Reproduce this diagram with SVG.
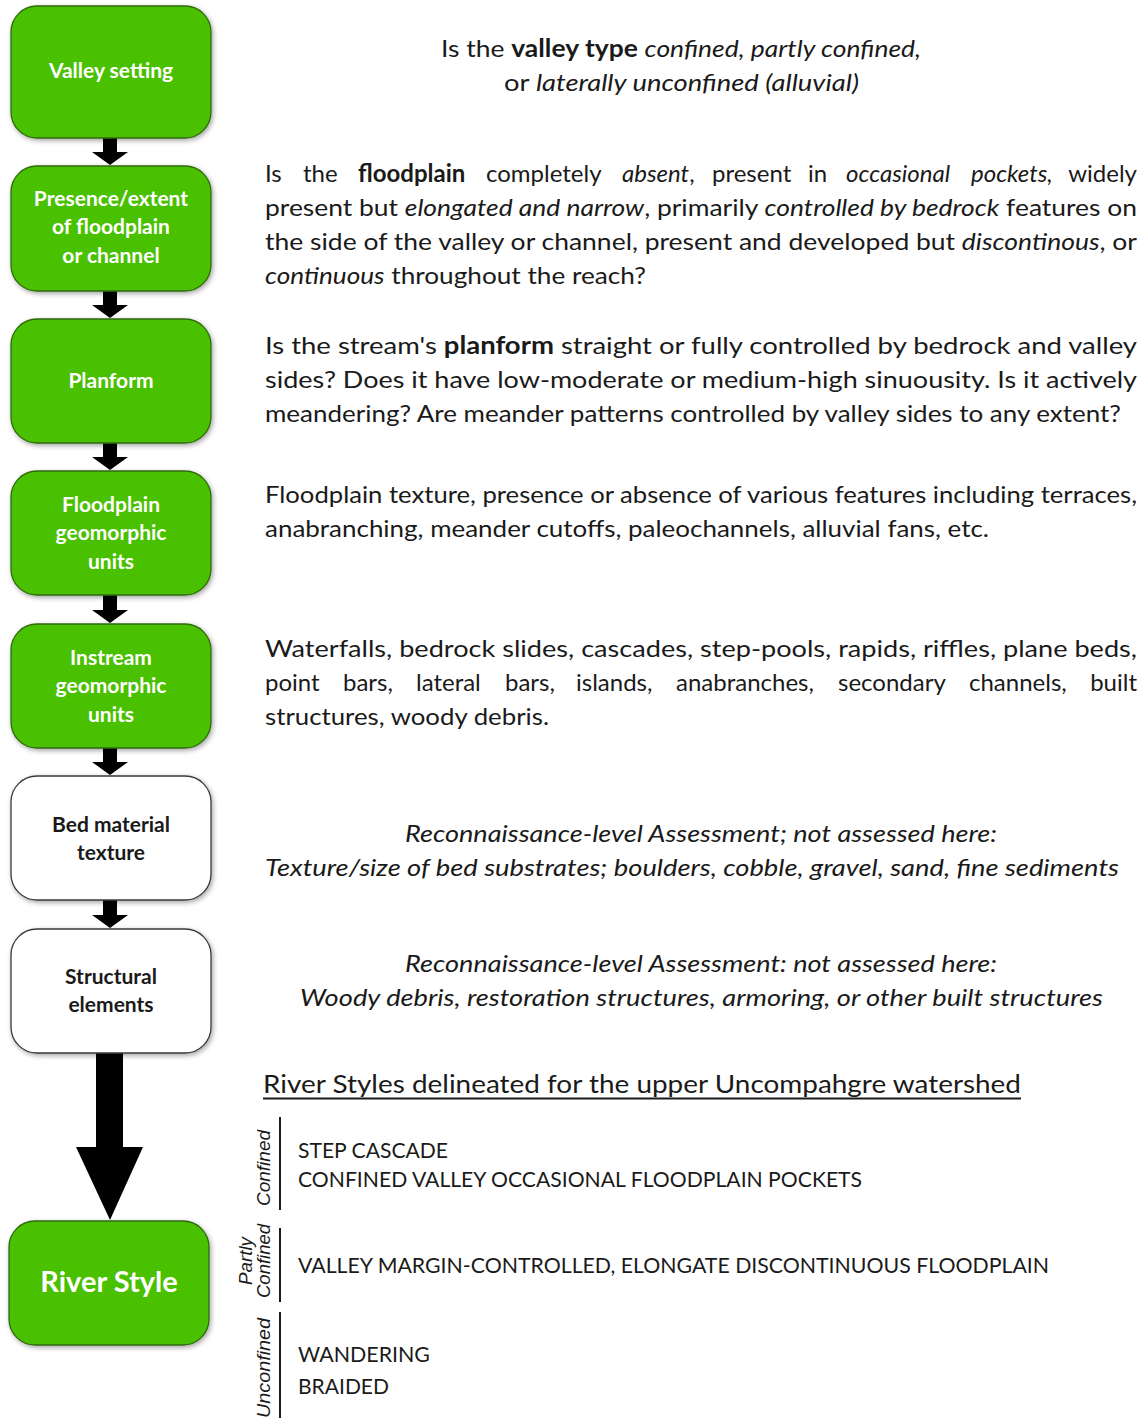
<svg xmlns="http://www.w3.org/2000/svg" width="1143" height="1418" viewBox="0 0 1143 1418">
  <style>
    .green { fill: #48c000; stroke: #2e6a0c; stroke-width: 1.3; }
    .white { fill: #ffffff; stroke: #3a3a3a; stroke-width: 1.3; }
    .lbl { font-family: Lato, "Open Sans", sans-serif; font-weight: bold; font-size: 21px; text-anchor: middle; }
    .lw { fill: #ffffff; }
    .lk { fill: #1a1a1a; }
    .body { font-family: Lato, "Liberation Sans", sans-serif; font-size: 24px; fill: #1a1a1a; }
    .b { font-weight: bold; }
    .i { font-style: italic; }
    .entry { font-family: Lato, "Liberation Sans", sans-serif; font-size: 21px; fill: #1a1a1a; }
    .side { font-family: "Liberation Sans", Arial, sans-serif; font-style: italic; font-size: 18.5px; fill: #1a1a1a; text-anchor: middle; }
  </style>
  <defs>
    <filter id="shadow" x="-10%" y="-10%" width="125%" height="125%">
      <feDropShadow dx="1.5" dy="2" stdDeviation="2.5" flood-color="#000" flood-opacity="0.35"/>
    </filter>
  </defs>

  <rect width="1143" height="1418" fill="#ffffff"/>

  <!-- flow arrows between the steps -->
  <g id="connectors" fill="#000000">
    <polygon points="103,138 117,138 117,152 128,152 110,165 92,152 103,152"/>
    <polygon points="103,291 117,291 117,305 128,305 110,318 92,305 103,305"/>
    <polygon points="103,443 117,443 117,457 128,457 110,470 92,457 103,457"/>
    <polygon points="103,595 117,595 117,610 128,610 110,623 92,610 103,610"/>
    <polygon points="103,748 117,748 117,762 128,762 110,775 92,762 103,762"/>
    <polygon points="103,900 117,900 117,915 128,915 110,928 92,915 103,915"/>
    <polygon points="96,1053 123,1053 123,1147 143,1147 110,1220 76,1147 96,1147"/>
  </g>

  <!-- step nodes -->
  <g id="valley-setting">
    <rect class="green" x="11" y="6" width="200" height="132" rx="26" filter="url(#shadow)"/>
    <text class="lbl lw" x="111" y="78">Valley setting</text>
  </g>
  <g id="floodplain-extent">
    <rect class="green" x="11" y="166" width="200" height="125" rx="26" filter="url(#shadow)"/>
    <text class="lbl lw" x="111" y="206">Presence/extent</text>
    <text class="lbl lw" x="111" y="234">of floodplain</text>
    <text class="lbl lw" x="111" y="263">or channel</text>
  </g>
  <g id="planform">
    <rect class="green" x="11" y="319" width="200" height="124" rx="26" filter="url(#shadow)"/>
    <text class="lbl lw" x="111" y="388">Planform</text>
  </g>
  <g id="floodplain-units">
    <rect class="green" x="11" y="471" width="200" height="124" rx="26" filter="url(#shadow)"/>
    <text class="lbl lw" x="111" y="512">Floodplain</text>
    <text class="lbl lw" x="111" y="540">geomorphic</text>
    <text class="lbl lw" x="111" y="569">units</text>
  </g>
  <g id="instream-units">
    <rect class="green" x="11" y="624" width="200" height="124" rx="26" filter="url(#shadow)"/>
    <text class="lbl lw" x="111" y="665">Instream</text>
    <text class="lbl lw" x="111" y="693">geomorphic</text>
    <text class="lbl lw" x="111" y="722">units</text>
  </g>
  <g id="bed-material">
    <rect class="white" x="11" y="776" width="200" height="124" rx="26" filter="url(#shadow)"/>
    <text class="lbl lk" x="111" y="832">Bed material</text>
    <text class="lbl lk" x="111" y="860">texture</text>
  </g>
  <g id="structural-elements">
    <rect class="white" x="11" y="929" width="200" height="124" rx="26" filter="url(#shadow)"/>
    <text class="lbl lk" x="111" y="984">Structural</text>
    <text class="lbl lk" x="111" y="1012">elements</text>
  </g>
  <g id="river-style">
    <rect class="green" x="9" y="1221" width="200" height="124" rx="26" filter="url(#shadow)"/>
    <text class="lbl lw" x="109" y="1292" style="font-size:29px">River Style</text>
  </g>

  <!-- descriptions -->
  <g id="descriptions">
    <text class="body" x="441" y="57" textLength="480" lengthAdjust="spacingAndGlyphs">Is the <tspan class="b">valley type</tspan> <tspan class="i">confined, partly confined,</tspan></text>
    <text class="body" x="504" y="91" textLength="355" lengthAdjust="spacingAndGlyphs">or <tspan class="i">laterally unconfined (alluvial)</tspan></text>

    <!-- justified line: words placed one by one -->
    <text class="body" y="182"><tspan x="265">Is</tspan><tspan x="303">the</tspan><tspan x="358" class="b">floodplain</tspan><tspan x="486">completely</tspan><tspan x="622" class="i">absent</tspan>,<tspan x="712">present</tspan><tspan x="808">in</tspan><tspan x="846" class="i">occasional</tspan><tspan x="971" class="i">pockets,</tspan></text>
    <text class="body" x="1137" y="182" text-anchor="end">widely</text>
    <text class="body" x="265" y="216" textLength="872" lengthAdjust="spacingAndGlyphs">present but <tspan class="i">elongated and narrow</tspan>, primarily <tspan class="i">controlled by bedrock</tspan> features on</text>
    <text class="body" x="265" y="250" textLength="872" lengthAdjust="spacingAndGlyphs">the side of the valley or channel, present and developed but <tspan class="i">discontinous</tspan>, or</text>
    <text class="body" x="265" y="284" textLength="381" lengthAdjust="spacingAndGlyphs"><tspan class="i">continuous</tspan> throughout the reach?</text>

    <text class="body" x="265" y="354" textLength="872" lengthAdjust="spacingAndGlyphs">Is the stream's <tspan class="b">planform</tspan> straight or fully controlled by bedrock and valley</text>
    <text class="body" x="265" y="388" textLength="872" lengthAdjust="spacingAndGlyphs">sides? Does it have low-moderate or medium-high sinuousity. Is it actively</text>
    <text class="body" x="265" y="422" textLength="856" lengthAdjust="spacingAndGlyphs">meandering? Are meander patterns controlled by valley sides to any extent?</text>

    <text class="body" x="265" y="503" textLength="872" lengthAdjust="spacingAndGlyphs">Floodplain texture, presence or absence of various features including terraces,</text>
    <text class="body" x="265" y="537" textLength="724" lengthAdjust="spacingAndGlyphs">anabranching, meander cutoffs, paleochannels, alluvial fans, etc.</text>

    <text class="body" x="265" y="657" textLength="872" lengthAdjust="spacingAndGlyphs">Waterfalls, bedrock slides, cascades, step-pools, rapids, riffles, plane beds,</text>
    <!-- justified line: words placed one by one -->
    <text class="body" y="691"><tspan x="265">point</tspan><tspan x="343">bars,</tspan><tspan x="416">lateral</tspan><tspan x="505">bars,</tspan><tspan x="576">islands,</tspan><tspan x="676">anabranches,</tspan><tspan x="838">secondary</tspan><tspan x="969">channels,</tspan></text>
    <text class="body" x="1137" y="691" text-anchor="end">built</text>
    <text class="body" x="265" y="725" textLength="284" lengthAdjust="spacingAndGlyphs">structures, woody debris.</text>

    <text class="body i" x="405" y="842" textLength="592" lengthAdjust="spacingAndGlyphs">Reconnaissance-level Assessment; not assessed here:</text>
    <text class="body i" x="265" y="876" textLength="854" lengthAdjust="spacingAndGlyphs">Texture/size of bed substrates; boulders, cobble, gravel, sand, fine sediments</text>

    <text class="body i" x="405" y="972" textLength="592" lengthAdjust="spacingAndGlyphs">Reconnaissance-level Assessment: not assessed here:</text>
    <text class="body i" x="300" y="1006" textLength="803" lengthAdjust="spacingAndGlyphs">Woody debris, restoration structures, armoring, or other built structures</text>
  </g>

  <!-- river styles list -->
  <g id="river-styles-list">
    <text class="body" x="263" y="1093" textLength="758" lengthAdjust="spacingAndGlyphs" style="font-size:25px">River Styles delineated for the upper Uncompahgre watershed</text>
    <line x1="263" y1="1098.5" x2="1021" y2="1098.5" stroke="#1a1a1a" stroke-width="2"/>

    <g stroke="#1a1a1a" stroke-width="2">
      <line x1="280" y1="1117" x2="280" y2="1210"/>
      <line x1="280" y1="1228" x2="280" y2="1302"/>
      <line x1="280" y1="1312" x2="280" y2="1418"/>
    </g>

    <text class="side" transform="translate(270,1168) rotate(-90)" textLength="76" lengthAdjust="spacingAndGlyphs">Confined</text>
    <text class="side" transform="translate(252,1261) rotate(-90)" textLength="48" lengthAdjust="spacingAndGlyphs">Partly</text>
    <text class="side" transform="translate(270,1261) rotate(-90)" textLength="74" lengthAdjust="spacingAndGlyphs">Confined</text>
    <text class="side" transform="translate(270,1368) rotate(-90)" textLength="100" lengthAdjust="spacingAndGlyphs">Unconfined</text>

    <text class="entry" x="298" y="1158" textLength="150" lengthAdjust="spacingAndGlyphs">STEP CASCADE</text>
    <text class="entry" x="298" y="1187" textLength="564" lengthAdjust="spacingAndGlyphs">CONFINED VALLEY OCCASIONAL FLOODPLAIN POCKETS</text>
    <text class="entry" x="298" y="1273" textLength="751" lengthAdjust="spacingAndGlyphs">VALLEY MARGIN-CONTROLLED, ELONGATE DISCONTINUOUS FLOODPLAIN</text>
    <text class="entry" x="298" y="1362" textLength="132" lengthAdjust="spacingAndGlyphs">WANDERING</text>
    <text class="entry" x="298" y="1394" textLength="91" lengthAdjust="spacingAndGlyphs">BRAIDED</text>
  </g>
</svg>
